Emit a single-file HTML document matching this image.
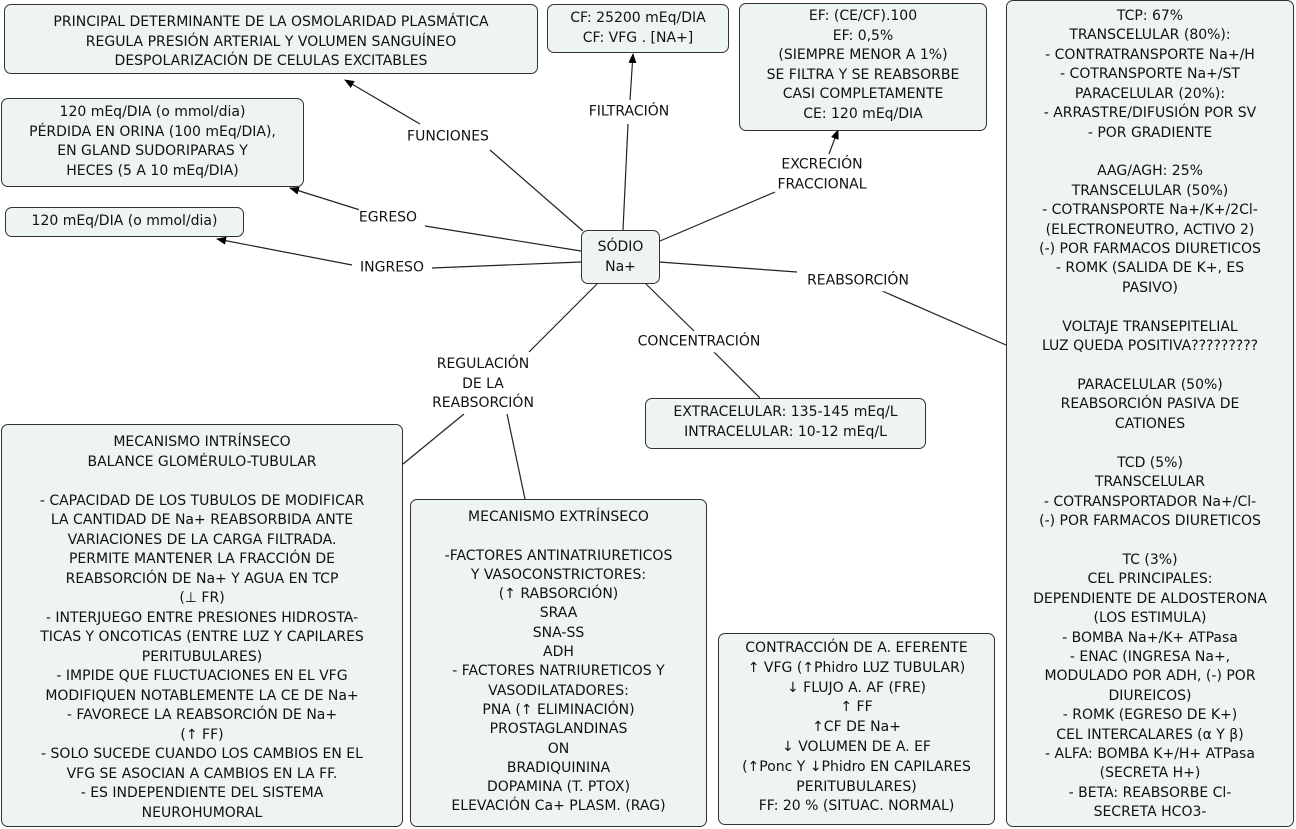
<!DOCTYPE html>
<html><head><meta charset="utf-8"><style>
body{margin:0;width:1296px;height:829px;background:#fff;position:relative;overflow:hidden;font-family:"DejaVu Sans","Liberation Sans",sans-serif;font-size:14px;color:#111}
.b{position:absolute;box-sizing:border-box;background:#eef3f4;border:1px solid #333;border-radius:7px;text-align:center;white-space:nowrap;line-height:19.5px}
.l{position:absolute;text-align:center;white-space:nowrap;line-height:19.5px;background:#fff;transform:translate(-50%,-50%)}
svg{position:absolute;left:0;top:0}
</style></head><body>
<svg width="1296" height="829">
<defs><marker id="a" markerWidth="10" markerHeight="10" refX="9" refY="5" orient="auto" markerUnits="userSpaceOnUse"><path d="M0,1 L10,5 L0,9 z" fill="#000"/></marker></defs>
<g stroke="#222" stroke-width="1.2" fill="none">
<line x1="583" y1="231" x2="490" y2="150"/><line x1="420" y1="124" x2="345" y2="80" marker-end="url(#a)"/>
<line x1="623" y1="230" x2="628" y2="124"/><line x1="630" y1="100" x2="633" y2="54" marker-end="url(#a)"/>
<line x1="660" y1="241" x2="775" y2="192"/><line x1="829" y1="154" x2="838" y2="130" marker-end="url(#a)"/>
<line x1="581" y1="251" x2="425" y2="226"/><line x1="360" y1="210" x2="290" y2="188" marker-end="url(#a)"/>
<line x1="581" y1="262" x2="432" y2="268"/><line x1="352" y1="265" x2="217" y2="239" marker-end="url(#a)"/>
<line x1="659" y1="262" x2="797" y2="272"/><line x1="880" y1="290" x2="1006" y2="345"/>
<line x1="646" y1="284" x2="694" y2="331"/><line x1="713" y1="351" x2="760" y2="398"/>
<line x1="597" y1="284" x2="529" y2="352"/><line x1="464" y1="414" x2="403" y2="464"/><line x1="507" y1="414" x2="525" y2="499"/>
</g></svg>
<div class="b" style="left:4px;top:4px;width:534px;height:70px;padding-top:8px">PRINCIPAL DETERMINANTE DE LA OSMOLARIDAD PLASMÁTICA<br>REGULA PRESIÓN ARTERIAL Y VOLUMEN SANGUÍNEO<br>DESPOLARIZACIÓN DE CELULAS EXCITABLES</div>
<div class="b" style="left:1px;top:98px;width:303px;height:89px;padding-top:4px">120 mEq/DIA (o mmol/dia)<br>PÉRDIDA EN ORINA (100 mEq/DIA),<br>EN GLAND SUDORIPARAS Y<br>HECES (5 A 10 mEq/DIA)</div>
<div class="b" style="left:5px;top:207px;width:239px;height:30px;padding-top:4px">120 mEq/DIA (o mmol/dia)</div>
<div class="b" style="left:547px;top:4px;width:182px;height:49px;padding-top:4px">CF: 25200 mEq/DIA<br>CF: VFG . [NA+]</div>
<div class="b" style="left:739px;top:3px;width:248px;height:128px;padding-top:3px">EF: (CE/CF).100<br>EF: 0,5%<br>(SIEMPRE MENOR A 1%)<br>SE FILTRA Y SE REABSORBE<br>CASI COMPLETAMENTE<br>CE: 120 mEq/DIA</div>
<div class="b" style="left:1006px;top:0px;width:288px;height:827px;padding-top:6px;line-height:19.42px">TCP: 67%<br>TRANSCELULAR (80%):<br>- CONTRATRANSPORTE Na+/H<br>- COTRANSPORTE Na+/ST<br>PARACELULAR (20%):<br>- ARRASTRE/DIFUSIÓN POR SV<br>- POR GRADIENTE<br><br>AAG/AGH: 25%<br>TRANSCELULAR (50%)<br>- COTRANSPORTE Na+/K+/2Cl-<br>(ELECTRONEUTRO, ACTIVO 2)<br>(-) POR FARMACOS DIURETICOS<br>- ROMK (SALIDA DE K+, ES<br>PASIVO)<br><br>VOLTAJE TRANSEPITELIAL<br>LUZ QUEDA POSITIVA?????????<br><br>PARACELULAR (50%)<br>REABSORCIÓN PASIVA DE<br>CATIONES<br><br>TCD (5%)<br>TRANSCELULAR<br>- COTRANSPORTADOR Na+/Cl-<br>(-) POR FARMACOS DIURETICOS<br><br>TC (3%)<br>CEL PRINCIPALES:<br>DEPENDIENTE DE ALDOSTERONA<br>(LOS ESTIMULA)<br>- BOMBA Na+/K+ ATPasa<br>- ENAC (INGRESA Na+,<br>MODULADO POR ADH, (-) POR<br>DIUREICOS)<br>- ROMK (EGRESO DE K+)<br>CEL INTERCALARES (α Y β)<br>- ALFA: BOMBA K+/H+ ATPasa<br>(SECRETA H+)<br>- BETA: REABSORBE Cl-<br>SECRETA HCO3-</div>
<div class="b" style="left:581px;top:230px;width:79px;height:54px;padding-top:7px">SÓDIO<br>Na+</div>
<div class="b" style="left:645px;top:398px;width:281px;height:51px;padding-top:4px">EXTRACELULAR: 135-145 mEq/L<br>INTRACELULAR: 10-12 mEq/L</div>
<div class="b" style="left:1px;top:424px;width:402px;height:403px;padding-top:8px">MECANISMO INTRÍNSECO<br>BALANCE GLOMÉRULO-TUBULAR<br><br>- CAPACIDAD DE LOS TUBULOS DE MODIFICAR<br>LA CANTIDAD DE Na+ REABSORBIDA ANTE<br>VARIACIONES DE LA CARGA FILTRADA.<br>PERMITE MANTENER LA FRACCIÓN DE<br>REABSORCIÓN DE Na+ Y AGUA EN TCP<br>(⊥ FR)<br>- INTERJUEGO ENTRE PRESIONES HIDROSTA-<br>TICAS Y ONCOTICAS (ENTRE LUZ Y CAPILARES<br>PERITUBULARES)<br>- IMPIDE QUE FLUCTUACIONES EN EL VFG<br>MODIFIQUEN NOTABLEMENTE LA CE DE Na+<br>- FAVORECE LA REABSORCIÓN DE Na+<br>(↑ FF)<br>- SOLO SUCEDE CUANDO LOS CAMBIOS EN EL<br>VFG SE ASOCIAN A CAMBIOS EN LA FF.<br>- ES INDEPENDIENTE DEL SISTEMA<br>NEUROHUMORAL</div>
<div class="b" style="left:410px;top:499px;width:297px;height:328px;padding-top:8px;line-height:19.3px">MECANISMO EXTRÍNSECO<br><br>-FACTORES ANTINATRIURETICOS<br>Y VASOCONSTRICTORES:<br>(↑ RABSORCIÓN)<br>SRAA<br>SNA-SS<br>ADH<br>- FACTORES NATRIURETICOS Y<br>VASODILATADORES:<br>PNA (↑ ELIMINACIÓN)<br>PROSTAGLANDINAS<br>ON<br>BRADIQUININA<br>DOPAMINA (T. PTOX)<br>ELEVACIÓN Ca+ PLASM. (RAG)</div>
<div class="b" style="left:718px;top:633px;width:277px;height:192px;padding-top:5px;line-height:19.8px">CONTRACCIÓN DE A. EFERENTE<br>↑ VFG (↑Phidro LUZ TUBULAR)<br>↓ FLUJO A. AF (FRE)<br>↑ FF<br>↑CF DE Na+<br>↓ VOLUMEN DE A. EF<br>(↑Ponc Y ↓Phidro EN CAPILARES<br>PERITUBULARES)<br>FF: 20 % (SITUAC. NORMAL)</div>
<div class="l" style="left:448px;top:137px">FUNCIONES</div>
<div class="l" style="left:629px;top:112px">FILTRACIÓN</div>
<div class="l" style="left:822px;top:175px">EXCRECIÓN<br>FRACCIONAL</div>
<div class="l" style="left:388px;top:218px">EGRESO</div>
<div class="l" style="left:392px;top:268px">INGRESO</div>
<div class="l" style="left:858px;top:281px">REABSORCIÓN</div>
<div class="l" style="left:699px;top:342px">CONCENTRACIÓN</div>
<div class="l" style="left:483px;top:384px">REGULACIÓN<br>DE LA<br>REABSORCIÓN</div>
</body></html>
